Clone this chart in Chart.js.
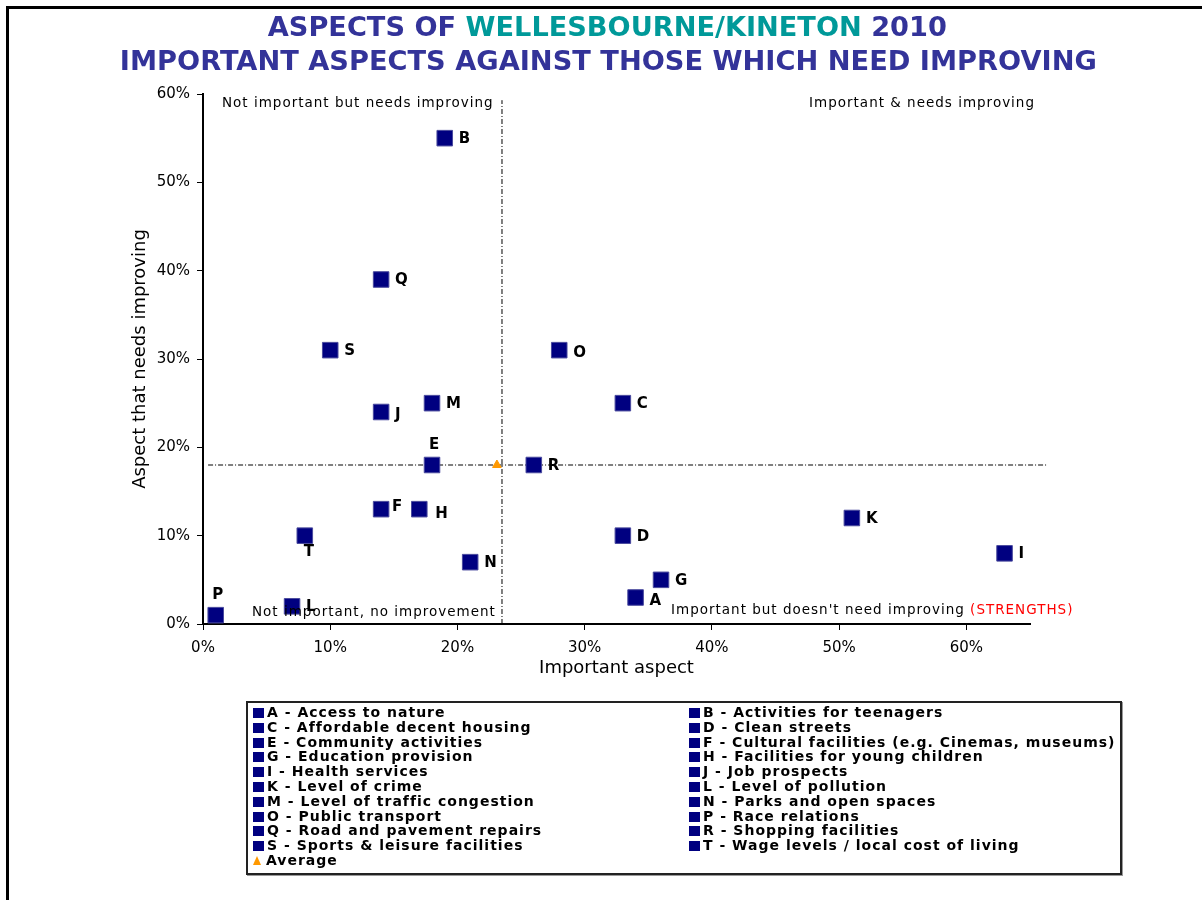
<!DOCTYPE html>
<html>
<head>
<meta charset="utf-8">
<script src="https://cdn.jsdelivr.net/npm/chart.js@4/dist/chart.umd.min.js"></script>
<style>
  html, body { margin: 0; padding: 0; background: #fff; }
  #wrap { position: relative; width: 1202px; height: 900px; overflow: hidden; font-family: "DejaVu Sans", Verdana, sans-serif; }
  #frame { position: absolute; left: 6px; top: 6px; width: 1300px; height: 1000px; border-left: 3px solid #000; border-top: 3px solid #000; box-sizing: border-box; }
  canvas { position: absolute; left: 0; top: 0; }
  .title { position: absolute; left: 0; width: 1202px; text-align: center; font-weight: bold; font-size: 27px; color: #333399; white-space: nowrap; }
  .title span.inner { display: inline-block; transform-origin: center center; }
  .teal { color: #009999; }
  #legend { position: absolute; left: 246px; top: 701px; width: 876px; height: 174px; border: 2px solid #222; box-sizing: border-box; box-shadow: 1px 1px 0 #999; background: #fff; }
  .lrow { position: absolute; height: 15px; line-height: 15px; font-weight: bold; font-size: 14px; letter-spacing: 1px; color: #000; white-space: nowrap; }
  .mk { display: inline-block; width: 11px; height: 10px; background: #000080; margin-right: 3px; vertical-align: -1px; }
  .tri { display: inline-block; width: 0; height: 0; border-left: 4px solid transparent; border-right: 4px solid transparent; border-bottom: 9px solid #FF9900; margin: 0 5px 0 2px; vertical-align: 0px; }
</style>
</head>
<body>
<div id="wrap">
  <div id="frame"></div>
  <canvas id="c" width="1202" height="900"></canvas>
  <div class="title" id="t1" style="top:11px;"><span class="inner">ASPECTS OF <span class="teal">WELLESBOURNE/KINETON</span> 2010</span></div>
  <div class="title" id="t2" style="top:45px;"><span class="inner">IMPORTANT ASPECTS AGAINST THOSE WHICH NEED IMPROVING</span></div>
  <div id="legend"></div>
</div>
<script>
// ---- DATA ----
const letters = ['A','B','C','D','E','F','G','H','I','J','K','L','M','N','O','P','Q','R','S','T'];
const aspectNames = [
  'Access to nature', 'Activities for teenagers', 'Affordable decent housing', 'Clean streets',
  'Community activities', 'Cultural facilities (e.g. Cinemas, museums)', 'Education provision',
  'Facilities for young children', 'Health services', 'Job prospects', 'Level of crime',
  'Level of pollution', 'Level of traffic congestion', 'Parks and open spaces', 'Public transport',
  'Race relations', 'Road and pavement repairs', 'Shopping facilities', 'Sports & leisure facilities',
  'Wage levels / local cost of living'
];
// Important aspect (%)
const importantPct = [34, 19, 33, 33, 18, 14, 36, 17, 63, 14, 51, 7, 18, 21, 28, 1, 14, 26, 10, 8];
// Aspect that needs improving (%)
const improvingPct = [3, 55, 25, 10, 18, 13, 5, 13, 8, 24, 12, 2, 25, 7, 31, 1, 39, 18, 31, 10];
const averagePoint = [23.1, 18];
const dividerX = 23.5;   // vertical quadrant divider
const dividerY = 18;     // horizontal quadrant divider
const xTicks = [0, 10, 20, 30, 40, 50, 60];
const yTicks = [0, 10, 20, 30, 40, 50, 60];
const quadrantLabels = ['Not important but needs improving', 'Important & needs improving',
  'Not important, no improvement', "Important but doesn't need improving"];
const strengthsLabel = '(STRENGTHS)';

// label placement (style only)
const labelPlace = { E: 'above', P: 'above', T: 'below' };
const labelNudge = { J: [0, 2], F: [-3, -3], H: [2, 4], A: [0, 3], O: [0, 2] };

// ---- LEGEND (HTML) ----
const legend = document.getElementById('legend');
const legendItems = letters.map((l, i) => ({ text: l + ' - ' + aspectNames[i] }));
legendItems.forEach((it, i) => {
  const col = i % 2, row = Math.floor(i / 2);
  const d = document.createElement('div');
  d.className = 'lrow';
  d.style.left = (col === 0 ? 5 : 441) + 'px';
  d.style.top = (2 + row * 14.8) + 'px';
  d.innerHTML = '<span class="mk"></span>';
  d.appendChild(document.createTextNode(it.text));
  legend.appendChild(d);
});
{
  const d = document.createElement('div');
  d.className = 'lrow';
  d.style.left = '3px';
  d.style.top = (2 + 10 * 14.8) + 'px';
  d.innerHTML = '<span class="tri"></span>';
  d.appendChild(document.createTextNode('Average'));
  legend.appendChild(d);
}

// ---- TITLE fitting ----
function fitTitle(id, left, right) {
  const inner = document.querySelector('#' + id + ' .inner');
  const w = inner.getBoundingClientRect().width;
  const s = (right - left) / w;
  inner.style.transform = 'scaleX(' + s + ')';
  const c = (left + right) / 2;
  inner.parentElement.style.left = (c - 601) + 'px';
}
fitTitle('t1', 268, 947);
fitTitle('t2', 120, 1097);

// ---- CHART ----
const pointsData = letters.map((l, i) => ({ x: importantPct[i], y: improvingPct[i], label: l }));

const labelsPlugin = {
  id: 'pointLabels',
  afterDatasetsDraw(chart) {
    const ctx = chart.ctx;
    const meta = chart.getDatasetMeta(0);
    ctx.save();
    ctx.font = 'bold 15px "DejaVu Sans", Verdana, sans-serif';
    ctx.fillStyle = '#000';
    ctx.textBaseline = 'middle';
    meta.data.forEach((el, i) => {
      const l = letters[i];
      let x = el.x, y = el.y;
      const place = labelPlace[l] || 'right';
      if (place === 'right') { ctx.textAlign = 'left'; x += 14; }
      else if (place === 'above') { ctx.textAlign = 'center'; x += 2; y -= 21; }
      else if (place === 'below') { ctx.textAlign = 'center'; x += 4; y += 15; }
      const n = labelNudge[l];
      if (n) { x += n[0]; y += n[1]; }
      ctx.fillText(l, x, y + 1);
    });
    // quadrant labels
    const a = chart.chartArea;
    ctx.font = '13.5px "DejaVu Sans", Verdana, sans-serif';
    if ('letterSpacing' in ctx) ctx.letterSpacing = '1px';
    ctx.textBaseline = 'middle';
    ctx.textAlign = 'left';
    ctx.fillText(quadrantLabels[0], a.left + 19, a.top + 9);
    ctx.textAlign = 'right';
    ctx.fillText(quadrantLabels[1], a.right + 5, a.top + 9);
    ctx.textAlign = 'left';
    ctx.fillText(quadrantLabels[2], a.left + 49, a.bottom - 12);
    ctx.fillText(quadrantLabels[3], a.left + 468, a.bottom - 14);
    const w3 = ctx.measureText(quadrantLabels[3] + ' ').width;
    ctx.fillStyle = '#FF0000';
    ctx.fillText(strengthsLabel, a.left + 468 + w3, a.bottom - 14);
    ctx.restore();
  }
};

const fontFam = '"DejaVu Sans", Verdana, sans-serif';

new Chart(document.getElementById('c'), {
  type: 'scatter',
  data: {
    datasets: [
      {
        label: 'Aspects',
        data: pointsData,
        pointStyle: 'rect',
        pointRadius: 11,
        pointHoverRadius: 11,
        backgroundColor: '#000080',
        borderColor: '#4a4a9e',
        borderWidth: 1,
        order: 1
      },
      {
        label: 'Average',
        data: [{ x: averagePoint[0], y: averagePoint[1] }],
        pointStyle: 'triangle',
        pointRadius: 5,
        backgroundColor: '#FF9900',
        borderColor: '#FF9900',
        borderWidth: 1,
        order: 0
      },
      {
        label: 'divX',
        type: 'line',
        data: [{ x: dividerX, y: 0 }, { x: dividerX, y: 59.3 }],
        borderColor: '#000',
        borderWidth: 1,
        borderDash: [5, 2, 1, 2],
        pointRadius: 0,
        fill: false,
        clip: false,
        order: 2
      },
      {
        label: 'divY',
        type: 'line',
        data: [{ x: 0.4, y: dividerY }, { x: 66.4, y: dividerY }],
        borderColor: '#000',
        borderWidth: 1,
        borderDash: [5, 2, 1, 2],
        pointRadius: 0,
        fill: false,
        clip: false,
        order: 2
      }
    ]
  },
  options: {
    responsive: false,
    animation: false,
    events: [],
    layout: { padding: { left: 120, top: 94, right: 172, bottom: 220 } },
    plugins: { legend: { display: false }, title: { display: false }, tooltip: { enabled: false } },
    scales: {
      x: {
        type: 'linear',
        min: 0, max: 65,
        afterBuildTicks: s => { s.ticks = xTicks.map(v => ({ value: v })); },
        afterFit: s => { s.height = 56; },
        ticks: { callback: v => v + '%', color: '#000', font: { family: fontFam, size: 15 }, padding: 9, maxRotation: 0 },
        grid: { drawOnChartArea: false, drawTicks: true, tickLength: 6, color: '#000', lineWidth: 1 },
        border: { display: true, color: '#000', width: 2 },
        title: { display: true, text: 'Important aspect', color: '#000', font: { family: fontFam, size: 18 }, padding: { top: 0, bottom: 1 } }
      },
      y: {
        type: 'linear',
        min: 0, max: 60,
        afterBuildTicks: s => { s.ticks = yTicks.map(v => ({ value: v })); },
        afterFit: s => { s.width = 83; },
        ticks: { callback: v => v + '%', color: '#000', font: { family: fontFam, size: 15 }, padding: 7 },
        grid: { drawOnChartArea: false, drawTicks: true, tickLength: 6, color: '#000', lineWidth: 1 },
        border: { display: true, color: '#000', width: 2 },
        title: { display: true, text: 'Aspect that needs improving', color: '#000', font: { family: fontFam, size: 18 }, padding: { top: 10, bottom: 0 } }
      }
    }
  },
  plugins: [labelsPlugin]
});
</script>
</body>
</html>
